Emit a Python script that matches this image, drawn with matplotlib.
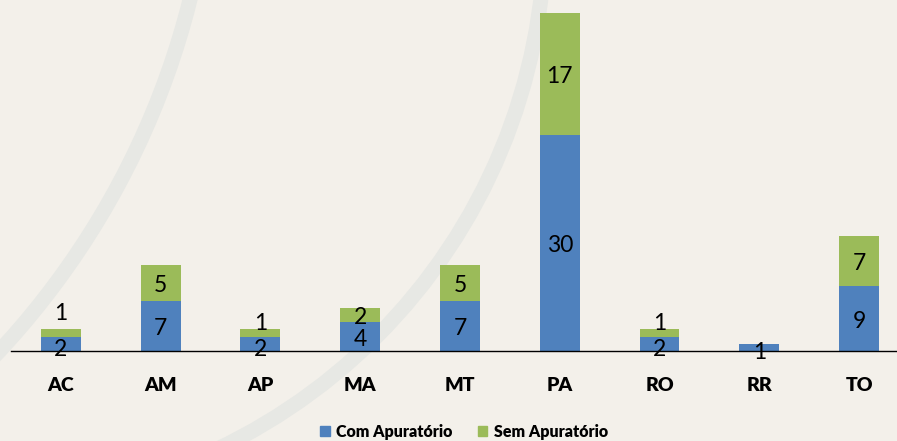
import numpy as np
import matplotlib
matplotlib.use('agg')
import matplotlib.pyplot as plt
from matplotlib.patches import Circle, Patch

estados = ['AC', 'AM', 'AP', 'MA', 'MT', 'PA', 'RO', 'RR', 'TO']
com_apuratorio = [2, 7, 2, 4, 7, 30, 2, 1, 9]
sem_apuratorio = [1, 5, 1, 2, 5, 17, 1, 0, 7]
series_nomes = ['Com Apuratório', 'Sem Apuratório']

azul = '#4F81BD'
verde = '#9BBB59'
fundo = '#F3F0EA'

plt.rcParams['font.family'] = ['Lato', 'DejaVu Sans']

W, H = 897, 441
fig = plt.figure(figsize=(W / 100, H / 100), dpi=100, facecolor=fundo)

# faint arcs of the slide background, in pixel coords
bg = fig.add_axes([0, 0, 1, 1], zorder=0)
bg.set_xlim(0, W)
bg.set_ylim(H, 0)
bg.axis('off')
for cx, cy, r in [(-588, -195, 802), (-30, -70, 575)]:
    bg.add_patch(Circle((cx, cy), r, fill=False, ec='#E7E8E4', lw=10.8))

ax = fig.add_axes([11 / W, 90 / H, (W - 11) / W, 351 / H], zorder=1)
ax.patch.set_alpha(0)
x = np.arange(len(estados))
ax.bar(x, com_apuratorio, width=0.4, color=azul, zorder=2)
ax.bar(x, sem_apuratorio, width=0.4, bottom=com_apuratorio, color=verde, zorder=2)

ax.set_xlim(-0.5, 8.38)
ax.set_ylim(0, 351 / 7.2)
for s in ['top', 'right', 'left']:
    ax.spines[s].set_visible(False)
ax.spines['bottom'].set_linewidth(1.0)
ax.spines['bottom'].set_zorder(3)
ax.set_yticks([])
ax.set_xticks(x)
ax.set_xticklabels(estados, fontsize=14, fontweight='heavy')
ax.tick_params(axis='x', length=0, pad=19)

# vertical nudge (points) of labels on the small segments
nudge = {('sem', 0): 14, ('sem', 2): 7, ('sem', 6): 7,
         ('com', 0): -4, ('com', 2): -4, ('com', 6): -4, ('com', 7): -4}
for i in range(len(estados)):
    segs = [('com', com_apuratorio[i], 0), ('sem', sem_apuratorio[i], com_apuratorio[i])]
    for nome, v, base in segs:
        if v == 0:
            continue
        dy = nudge.get((nome, i), -2)
        ax.annotate(str(v), (i, base + v / 2), xytext=(0, dy), textcoords='offset points',
                    ha='center', va='center', fontsize=16.5, color='black', zorder=4)

handles = [Patch(color=azul), Patch(color=verde)]
fig.legend(handles, series_nomes, loc='center', bbox_to_anchor=(464 / W, 1 - 432 / H),
           ncol=2, frameon=False, prop={'weight': 'heavy', 'size': 11.5},
           handlelength=0.6, handleheight=0.6, handletextpad=0.4, columnspacing=1.6)

fig.savefig('out.png', dpi=100, facecolor=fundo)
